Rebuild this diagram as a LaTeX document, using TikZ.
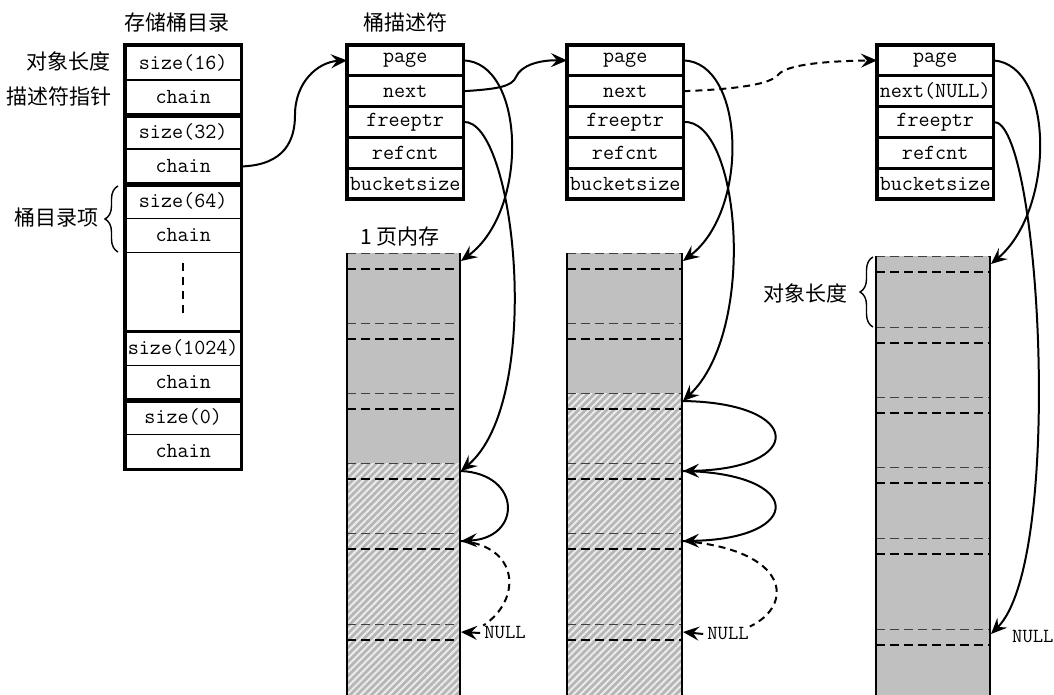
\documentclass[tikz,border=0pt]{standalone}
\usepackage{fontspec}
\newfontfamily\cjk{Noto Sans CJK SC}
\usetikzlibrary{arrows.meta,patterns.meta,decorations.pathreplacing}
\definecolor{pagegray}{RGB}{192,192,192}
\definecolor{hatchgray}{RGB}{182,182,182}
\begin{document}
\begin{tikzpicture}[x=1pt,y=-1pt,
  cn/.style={font=\cjk\fontsize{21}{25}\selectfont, inner sep=0pt},
  fld/.style={draw, line width=1.4pt, minimum width=115pt, minimum height=29.4pt, inner sep=0pt, anchor=north west, font=\fontsize{21.5}{25}\selectfont\ttfamily},
  dirf/.style={fld, minimum height=34.5pt},
  outerbox/.style={line width=3.5pt},
  sepline/.style={line width=4.5pt},
  arr/.style={line width=2pt, -{Stealth[length=16pt,width=14pt,inset=6pt]}},
  dasharr/.style={arr, dash pattern=on 7pt off 5pt},
  dashcurve/.style={line width=2pt, dash pattern=on 7pt off 5pt},
  brc/.style={decorate, decoration={brace, amplitude=13pt}, line width=1.4pt},
  nulllab/.style={font=\fontsize{20}{23}\selectfont\ttfamily, inner sep=1pt},
  pagefill/.style={fill=pagegray},
  hatchfill/.style={pattern={Lines[angle=45,distance=5pt,line width=2pt]}, pattern color=white!92!black},
  slottop/.style={line width=1pt, draw=black!75, dash pattern=on 9pt off 5pt},
  slothead/.style={line width=1.8pt, dash pattern=on 9pt off 5pt},
  pageedge/.style={line width=2.5pt}
]
\useasboundingbox (0,0) rectangle (1054,695);

% ---------- titles and labels ----------
\node[cn] (tdir) at (176.5,22.5) {存储桶目录};
\node[cn] (tdesc) at (405,22.5) {桶描述符};
\node[cn, anchor=east] (lsize) at (111,61) {对象长度};
\node[cn, anchor=east] (lptr) at (112,96) {描述符指针};
\node[cn, anchor=east] (lbucket) at (99,218) {桶目录项};
\node[cn] (lpage) at (400,237) {1 页内存};
\node[cn, anchor=east] (lobj) at (848,293) {对象长度};

% ---------- bucket directory ----------
\node[dirf] (s16) at (125,45) {size(16)};
\node[dirf] (c16) at (125,79.5) {chain};
\node[dirf] (s32) at (125,114) {size(32)};
\node[dirf] (c32) at (125,148.5) {chain};
\node[dirf] (s64) at (125,183) {size(64)};
\node[dirf] (c64) at (125,217.5) {chain};
\node[dirf, minimum height=78pt] (gap) at (125,252) {};
\node[dirf] (s1024) at (125,330) {size(1024)};
\node[dirf] (c1024) at (125,364.5) {chain};
\node[dirf] (s0) at (125,399) {size(0)};
\node[dirf] (c0) at (125,433.5) {chain};
\draw[outerbox] (s16.north west) rectangle (c0.south east);
\draw[sepline] (c16.south west) -- (c16.south east);
\draw[sepline] (c32.south west) -- (c32.south east);
\draw[sepline] (c1024.south west) -- (c1024.south east);
\draw[line width=2.2pt] (gap.south west) -- (gap.south east);
\draw[line width=1.6pt, dash pattern=on 8pt off 6pt] ([yshift=-11pt]gap.north) -- ([yshift=13pt]gap.south);
\draw[brc] (118,252) -- (118,186);

% ---------- bucket descriptors ----------
\node[fld] (d1p) at (347,45) {page};
\node[fld] (d1n) at (d1p.south west) {next};
\node[fld] (d1f) at (d1n.south west) {freeptr};
\node[fld] (d1r) at (d1f.south west) {refcnt};
\node[fld] (d1b) at (d1r.south west) {bucketsize};
\draw[outerbox] (d1p.north west) rectangle (d1b.south east);

\node[fld] (d2p) at (567,45) {page};
\node[fld] (d2n) at (d2p.south west) {next};
\node[fld] (d2f) at (d2n.south west) {freeptr};
\node[fld] (d2r) at (d2f.south west) {refcnt};
\node[fld] (d2b) at (d2r.south west) {bucketsize};
\draw[outerbox] (d2p.north west) rectangle (d2b.south east);

\node[fld] (d3p) at (877,45) {page};
\node[fld] (d3n) at (d3p.south west) {next(NULL)};
\node[fld] (d3f) at (d3n.south west) {freeptr};
\node[fld] (d3r) at (d3f.south west) {refcnt};
\node[fld] (d3b) at (d3r.south west) {bucketsize};
\draw[outerbox] (d3p.north west) rectangle (d3b.south east);

% ---------- page 1 ----------
\fill[pagefill] (347,253) rectangle (460,463);
\fill[hatchgray] (347,463) rectangle (460,695);
\fill[hatchfill] (347,463) rectangle (460,695);
\foreach \t in {253,323,393,463,533,624} {
  \draw[slottop] (347,\t) -- (460,\t);
  \draw[slothead] (347,\t+16) -- (460,\t+16);
}
\draw[pageedge] (347,253) -- (347,696);
\draw[pageedge] (460,253) -- (460,696);
\coordinate (p1s1) at (461,261);
\coordinate (p1s4) at (461,471);
\coordinate (p1s5) at (461,541);
\coordinate (p1s6) at (461,632);

% ---------- page 2 ----------
\fill[pagefill] (567,253) rectangle (682,393);
\fill[hatchgray] (567,393) rectangle (682,695);
\fill[hatchfill] (567,393) rectangle (682,695);
\foreach \t in {253,323,393,463,533,624} {
  \draw[slottop] (567,\t) -- (682,\t);
  \draw[slothead] (567,\t+16) -- (682,\t+16);
}
\draw[pageedge] (567,253) -- (567,696);
\draw[pageedge] (682,253) -- (682,696);
\coordinate (p2s1) at (683,261);
\coordinate (p2s3) at (683,401);
\coordinate (p2s4) at (683,471);
\coordinate (p2s5) at (683,541);
\coordinate (p2s6) at (683,632);

% ---------- page 3 ----------
\fill[pagefill] (876,256) rectangle (990,695);
\foreach \t in {256,327,397,467,538,629} {
  \draw[slottop] (876,\t) -- (990,\t);
  \draw[slothead] (876,\t+16) -- (990,\t+16);
}
\draw[pageedge] (876,256) -- (876,696);
\draw[pageedge] (990,256) -- (990,696);
\coordinate (p3s1) at (991,264);
\coordinate (p3s6) at (991,634);
\draw[brc] (873,327) -- (873,257);

% ---------- NULL labels ----------
\node[nulllab] (n1) at (505,633) {NULL};
\node[nulllab] (n2) at (728,634) {NULL};
\node[nulllab, anchor=west] (n3) at (1011,637) {NULL};

% ---------- connectors ----------
\draw[arr] (c32.east) .. controls (285,165) and (295,140) .. (295,115)
           .. controls (295,82) and (318,62) .. (d1p.west);
\draw[arr] (d1n.east) .. controls (500,89) and (512,86) .. (516,77)
           .. controls (521,65) and (540,60) .. (d2p.west);
\draw[dasharr] (d2n.east) .. controls (740,89) and (770,84) .. (778,75)
           .. controls (786,64) and (830,61) .. (d3p.west);

\draw[arr] (d1p.east) .. controls (525,62) and (530,210) .. (p1s1);
\draw[arr] (d1f.east) .. controls (515,118) and (545,400) .. (p1s4);
\draw[arr] (p1s4) .. controls (522,474) and (522,538) .. (p1s5);
\draw[dashcurve] (p1s5) .. controls (520,546) and (522,600) .. (n1.north west);
\draw[arr] ([xshift=-3pt]n1.west) -- (p1s6);

\draw[arr] (d2p.east) .. controls (745,62) and (750,210) .. (p2s1);
\draw[arr] (d2f.east) .. controls (740,118) and (758,330) .. (p2s3);
\draw[arr] (p2s3) .. controls (805,403) and (805,469) .. (p2s4);
\draw[arr] (p2s4) .. controls (805,473) and (805,539) .. (p2s5);
\draw[dashcurve] (p2s5) .. controls (790,550) and (795,605) .. (n2.north east);
\draw[arr] ([xshift=-3pt]n2.west) -- (p2s6);

\draw[arr] (d3p.east) .. controls (1055,65) and (1055,210) .. (p3s1);
\draw[arr] (d3f.east) .. controls (1040,118) and (1065,560) .. (p3s6);
\end{tikzpicture}
\end{document}
